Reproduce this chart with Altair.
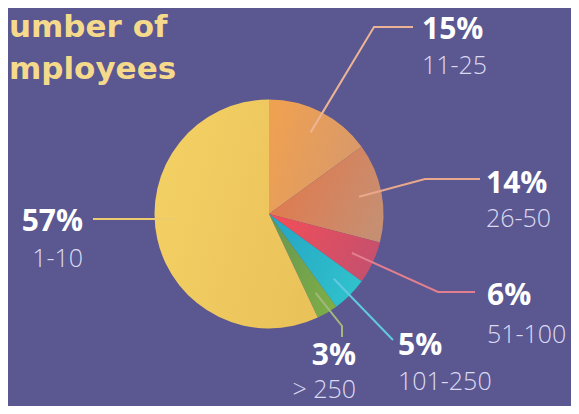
import math
import altair as alt
import pandas as pd

# ---------------- data ----------------
ranges = ["11-25", "26-50", "51-100", "101-250", "> 250", "1-10"]
shares = [15, 14, 6, 5, 3, 57]
pct_labels = ["15%", "14%", "6%", "5%", "3%", "57%"]
title_lines = ["umber of", "mployees"]

# ---------------- styles ----------------
BG = "#5a5791"
TITLE_COLOR = "#f6da8b"
PCT_COLOR = "#ffffff"
RANGE_COLOR = "#dcdaf2"
grad_a = ["#efa152", "#e3784a", "#f04e58", "#26a6c3", "#689850", "#f3d064"]
grad_b = ["#d6986c", "#c68f72", "#c4506e", "#30c2cd", "#7dad47", "#eac25a"]
line_colors = ["#ecb495", "#e9a88c", "#e27f8f", "#62c9e2", "#a4b87c", "#eccc6e"]

# ---------------- layout (svg px) ----------------
W, H = 563, 398
CX, CY, R = 261, 206, 114.5
ANCHOR_R = 0.8 * R
anchor_override = {"1-10": 266.8}  # degrees clockwise from 12 o'clock
bends = {
    "11-25": [(366, 19), (405, 19)],
    "26-50": [(417, 171), (472, 171)],
    "51-100": [(430, 284), (467, 284)],
    "101-250": [(385, 332), (385, 332)],
    "> 250": [(334, 318), (334, 329)],
    "1-10": [(85, 211), (85, 211)],
}
label_pos = {  # (x, pct baseline, range baseline, align)
    "11-25": (414, 31, 66, "left"),
    "26-50": (478, 185, 219, "left"),
    "51-100": (479, 297, 335, "left"),
    "101-250": (390, 347, 382, "left"),
    "> 250": (348, 357, 390, "right"),
    "1-10": (75, 223, 259, "right"),
}

df = pd.DataFrame({"range": ranges, "share": shares, "idx": list(range(len(ranges)))})

xs = alt.Scale(domain=[0, W], range=[0, W])
ys = alt.Scale(domain=[0, H], range=[0, H])
theta_scale = alt.Scale(domain=[0, 100], range=[0, 2 * math.pi])

base = (
    alt.Chart(df)
    .transform_window(cum="sum(share)", sort=[alt.SortField("idx")], frame=[None, 0])
    .transform_calculate(start="datum.cum - datum.share")
)

layers = []
for i, r in enumerate(ranges):
    grad = alt.Gradient(
        gradient="linear",
        stops=[alt.GradientStop(color=grad_a[i], offset=0), alt.GradientStop(color=grad_b[i], offset=1)],
        x1=0, x2=1, y1=0.3, y2=0.7,
    )
    layers.append(
        base.transform_filter(alt.datum.range == r)
        .mark_arc(outerRadius=R, fill=grad, strokeWidth=0)
        .encode(
            theta=alt.Theta("start:Q", scale=theta_scale),
            theta2="cum:Q",
            x=alt.value(CX),
            y=alt.value(CY),
        )
    )

# leader lines
rows = []
cum = 0
for r, s in zip(ranges, shares):
    mid = (cum + s / 2) / 100 * 360
    cum += s
    ang = math.radians(anchor_override.get(r, mid))
    sx = CX + ANCHOR_R * math.sin(ang)
    sy = CY - ANCHOR_R * math.cos(ang)
    pts = [(sx, sy)] + bends[r]
    for k, (px, py) in enumerate(pts):
        rows.append({"range": r, "k": k, "x": px, "y": py})
lines_df = pd.DataFrame(rows)

lines = alt.Chart(lines_df).mark_line(strokeWidth=2).encode(
    x=alt.X("x:Q", scale=xs, axis=None),
    y=alt.Y("y:Q", scale=ys, axis=None),
    detail="range:N",
    order="k:Q",
    color=alt.Color("range:N", scale=alt.Scale(domain=ranges, range=line_colors), legend=None),
)

# labels
lab_rows = []
for r, p in zip(ranges, pct_labels):
    x, yp, yr, al = label_pos[r]
    lab_rows.append({"text": p, "x": x, "y": yp, "kind": "pct", "align": al})
    lab_rows.append({"text": r, "x": x, "y": yr, "kind": "rng", "align": al})
lab_df = pd.DataFrame(lab_rows)

text_layers = []
for kind in ["pct", "rng"]:
    for al in ["left", "right"]:
        if kind == "pct":
            mk = dict(font="Open Sans", fontSize=30, fontWeight="bold", color=PCT_COLOR)
        else:
            mk = dict(font="Open Sans", fontSize=25, fontWeight=300, color=RANGE_COLOR)
        text_layers.append(
            alt.Chart(lab_df)
            .transform_filter((alt.datum.kind == kind) & (alt.datum.align == al))
            .mark_text(align=al, baseline="alphabetic", **mk)
            .encode(
                x=alt.X("x:Q", scale=xs, axis=None),
                y=alt.Y("y:Q", scale=ys, axis=None),
                text="text:N",
            )
        )

title_df = pd.DataFrame({"text": title_lines, "x": [1, 1], "y": [29, 71]})
title = alt.Chart(title_df).mark_text(
    align="left", baseline="alphabetic", font="DejaVu Sans", fontSize=31, fontWeight="bold", color=TITLE_COLOR
).encode(
    x=alt.X("x:Q", scale=xs, axis=None),
    y=alt.Y("y:Q", scale=ys, axis=None),
    text="text:N",
)

chart = (
    alt.layer(*layers, lines, *text_layers, title)
    .properties(width=W, height=H, background=BG, padding=0, autosize=alt.AutoSizeParams(type="none"))
    .configure_view(stroke=None)
)

chart.save("out.html", embed_options={"renderer": "svg", "actions": False})
